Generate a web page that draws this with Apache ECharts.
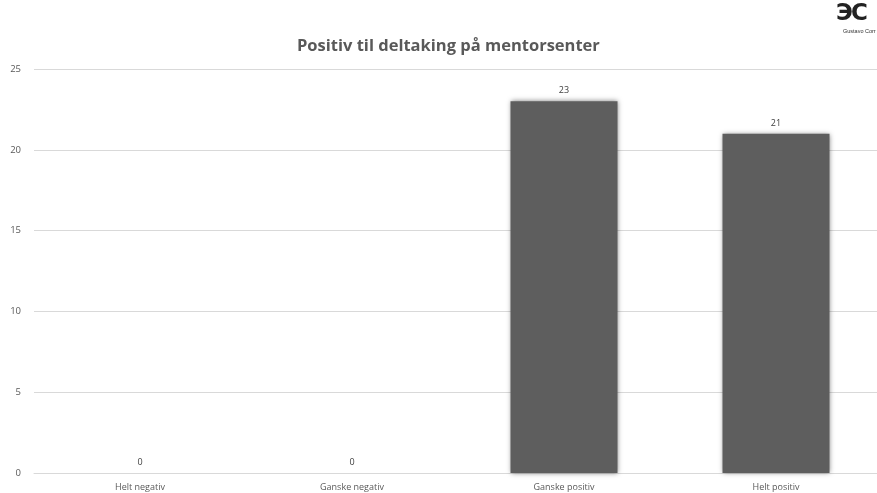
<!DOCTYPE html>
<html>
<head>
<meta charset="utf-8">
<script src="https://cdn.jsdelivr.net/npm/echarts@6/dist/echarts.min.js"></script>
<style>html,body{margin:0;padding:0;background:#fff;}#c{width:877px;height:493px;}</style>
</head>
<body>
<div id="c"></div>
<script>
const categories = ['Helt negativ', 'Ganske negativ', 'Ganske positiv', 'Helt positiv'];
const values = [0, 0, 23, 21];
const titleText = 'Positiv til deltaking på mentorsenter';

const chart = echarts.init(document.getElementById('c'));
chart.setOption({
  animation: false,
  backgroundColor: '#ffffff',
  title: {
    text: titleText,
    left: 292,
    top: 33,
    textStyle: { fontFamily: 'Open Sans', fontWeight: 'bold', fontSize: 16.5, color: '#595959' }
  },
  graphic: [
    { type: 'text', left: 836, top: 3, style: { text: 'Э', font: 'bold 23px "DejaVu Sans"', fill: '#222' } },
    { type: 'text', left: 851, top: 3, style: { text: 'C', font: 'bold 23px "DejaVu Sans"', fill: '#222' } },
    { type: 'text', left: 843, top: 28, style: { text: 'Gustavo Corr', font: '5.5px "Liberation Sans"', fill: '#333' } }
  ],
  grid: { left: 34, width: 848, top: 69, bottom: 20, containLabel: false, outerBoundsMode: 'none' },
  xAxis: {
    type: 'category',
    data: categories,
    axisLine: { lineStyle: { color: '#d9d9d9' } },
    axisTick: { show: false },
    axisLabel: { color: '#595959', fontSize: 9, fontFamily: 'Open Sans', margin: 10 }
  },
  yAxis: {
    type: 'value',
    min: 0, max: 25, interval: 5,
    axisLine: { show: false },
    axisTick: { show: false },
    splitLine: { lineStyle: { color: '#d9d9d9' } },
    axisLabel: { color: '#595959', fontSize: 9.5, fontFamily: 'Open Sans', margin: 13 }
  },
  series: [{
    type: 'bar',
    data: values,
    barWidth: 107,
    itemStyle: { color: '#5e5e5e', shadowBlur: 5, shadowColor: 'rgba(0,0,0,0.5)' },
    label: { show: true, position: 'top', distance: 6, color: '#404040', fontSize: 9, fontFamily: 'Open Sans' }
  }]
});
</script>
</body>
</html>
